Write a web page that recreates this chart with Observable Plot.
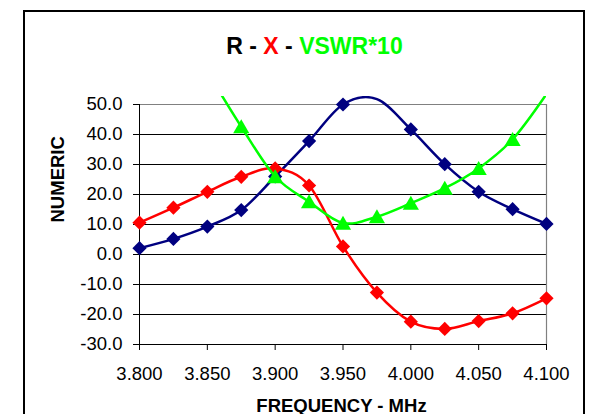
<!DOCTYPE html>
<html>
<head>
<meta charset="utf-8">
<script src="https://cdn.jsdelivr.net/npm/d3@7"></script>
<script src="https://cdn.jsdelivr.net/npm/@observablehq/plot@0.6"></script>
<style>
  html, body { margin: 0; padding: 0; background: #fff; }
  #wrap { position: relative; width: 589px; height: 414px; overflow: hidden; background: #fff; font-family: "Liberation Sans", Arial, sans-serif; }
  #chart { position: absolute; left: 0; top: 0; }
  #frame { position: absolute; left: 23px; top: 10px; width: 558px; height: 420px; border: 2px solid #000; pointer-events: none; z-index: 2; }
  #title { position: absolute; left: 314.5px; top: 34.5px; transform: translateX(-50%); white-space: nowrap; font-size: 23px; line-height: 23px; font-weight: bold; z-index: 3; }
</style>
</head>
<body>
<div id="wrap">
  <div id="chart"></div>
  <div id="frame"></div>
  <div id="title"><span style="color:#000">R - </span><span style="color:#ff0000">X</span><span style="color:#000"> - </span><span style="color:#00ff00">VSWR*10</span></div>
</div>
<script>
// Frequencies (MHz)
const freq = [3.800, 3.825, 3.850, 3.875, 3.900, 3.925, 3.950, 3.975, 4.000, 4.025, 4.050, 4.075, 4.100];
// R series (navy)
const rValues = [2.1, 5.2, 9.3, 14.8, 26.0, 37.8, 50.0, 51.8, 41.7, 30.1, 20.9, 15.1, 10.2];
// X series (red)
const xValues = [10.6, 15.6, 20.9, 25.9, 28.7, 23.0, 2.7, -12.7, -22.4, -24.8, -22.2, -19.6, -14.6];
// VSWR*10 series (green)
const vswrValues = [null, null, 61.0, 42.6, 26.0, 17.6, 10.5, 12.6, 17.1, 22.1, 28.7, 38.4, 53.5];
// Tick labels
const yTicks = [-30, -20, -10, 0, 10, 20, 30, 40, 50];
const xTicks = [3.80, 3.85, 3.90, 3.95, 4.00, 4.05, 4.10];

const rows = vals => freq.map((f, i) => ({f, v: vals[i]})).filter(d => d.v != null);
const inRange = d => d.v <= 50 && d.v >= -30;
const rRows = rows(rValues), xRows = rows(xValues), vRows = rows(vswrValues);

const navy = "#000080", red = "#ff0000", green = "#00ff00";

const chart = Plot.plot({
  width: 589,
  height: 414,
  marginLeft: 139,
  marginRight: 43,
  marginTop: 96,
  marginBottom: 70,
  x: {domain: [3.8, 4.1]},
  y: {domain: [-30, 52 + 2 / 3]},
  style: {fontFamily: "'Liberation Sans', Arial, sans-serif", background: "transparent", color: "#000", overflow: "visible"},
  marks: [
    Plot.ruleY(yTicks.filter(t => t > -30 && t < 50), {stroke: "#000", strokeWidth: 1}),
    Plot.ruleY([50], {stroke: "#808080", strokeWidth: 1.2}),
    Plot.ruleX([4.1], {y1: -30, y2: 50, stroke: "#808080", strokeWidth: 1.2}),
    Plot.axisY({ticks: yTicks, tickFormat: d => d.toFixed(1), tickSize: 6, tickPadding: 11, fontSize: 18.5, label: null, stroke: "#000", fill: "#000"}),
    Plot.axisX({ticks: xTicks, tickFormat: d => d.toFixed(3), tickSize: 6, tickPadding: 16, fontSize: 18.5, label: null, stroke: "#000", fill: "#000"}),
    Plot.ruleX([3.8], {y1: -30, y2: 50, stroke: "#000", strokeWidth: 1}),
    Plot.ruleY([-30], {stroke: "#000", strokeWidth: 1}),
    Plot.line(rRows, {x: "f", y: "v", stroke: navy, strokeWidth: 2.5, curve: "cardinal", clip: true}),
    Plot.dot(rRows.filter(inRange), {x: "f", y: "v", symbol: "diamond2", r: 6.4, fill: navy, stroke: "none"}),
    Plot.line(xRows, {x: "f", y: "v", stroke: red, strokeWidth: 2.5, curve: "cardinal", clip: true}),
    Plot.dot(xRows.filter(inRange), {x: "f", y: "v", symbol: "diamond2", r: 6.4, fill: red, stroke: "none"}),
    Plot.line(vRows, {x: "f", y: "v", stroke: green, strokeWidth: 2.5, curve: "cardinal", clip: true}),
    Plot.dot(vRows.filter(inRange), {x: "f", y: "v", symbol: "triangle", r: 6, dy: 2, fill: green, stroke: "none"}),
    Plot.text(["NUMERIC"], {text: d => d, frameAnchor: "left", dx: -81, dy: 2, rotate: -90, fontWeight: "bold", fontSize: 18.5, fill: "#000"}),
    Plot.text(["FREQUENCY - MHz"], {text: d => d, frameAnchor: "bottom", lineAnchor: "bottom", dx: -1.5, dy: 67, fontWeight: "bold", fontSize: 18.5, fill: "#000"})
  ]
});
document.getElementById("chart").appendChild(chart);
</script>
</body>
</html>
